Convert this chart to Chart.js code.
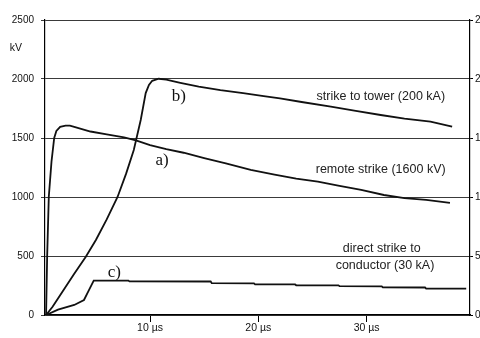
<!DOCTYPE html>
<html>
<head>
<meta charset="utf-8">
<script src="https://cdn.jsdelivr.net/npm/chart.js@4/dist/chart.umd.min.js"></script>
<style>
  html, body { margin: 0; padding: 0; background: #fff; overflow: hidden; }
  #wrap { width: 480px; height: 338px; }
</style>
</head>
<body>
<div id="wrap"><canvas id="c" width="480" height="338"></canvas></div>
<script>
// Overvoltage waveforms at the line entrance (time in µs, voltage in kV)

// a) remote strike (1600 kV)
const remoteTime = [0.4, 0.5, 0.65, 0.9, 1.15, 1.35, 1.7, 2.2, 2.6, 3.0, 4.5, 6.0, 7.6, 8.7, 10.0, 11.5, 13.1, 15.0, 17.0, 19.3, 21.5, 23.5, 25.5, 27.5, 29.5, 31.6, 33.5, 35.5, 37.7];
const remoteKV   = [0, 500, 1000, 1300, 1500, 1560, 1595, 1605, 1605, 1595, 1555, 1530, 1505, 1480, 1440, 1405, 1375, 1330, 1285, 1230, 1190, 1155, 1130, 1095, 1060, 1017, 990, 975, 950];

// b) strike to tower (200 kA)
const towerTime = [0.4, 1.0, 2.0, 3.0, 4.07, 5.0, 6.0, 7.0, 7.8, 8.5, 9.14, 9.6, 9.9, 10.2, 10.8, 11.5, 12.8, 14.5, 16.5, 18.6, 20.5, 22.0, 24.0, 26.7, 29.0, 31.3, 33.5, 35.9, 37.9];
const towerKV   = [0, 70, 210, 350, 494, 636, 810, 1000, 1200, 1398, 1653, 1881, 1950, 1985, 2002, 1995, 1968, 1935, 1905, 1880, 1855, 1836, 1805, 1765, 1730, 1695, 1665, 1638, 1596];

// c) direct strike to conductor (30 kA)
const conductorTime = [0.4, 1.5, 3.0, 3.9, 4.3, 4.8, 8.0, 8.1, 15.6, 15.7, 19.6, 19.7, 23.4, 23.5, 27.4, 27.5, 31.4, 31.5, 35.4, 35.5, 39.2];
const conductorKV   = [0, 45, 85, 127, 200, 292, 292, 285, 284, 270, 268, 260, 259, 252, 251, 244, 243, 234, 233, 224, 224];

// axis ticks
const timeTicks = [10, 20, 30];
const timeTickLabels = ['10 µs', '20 µs', '30 µs'];
const kvTicks = [0, 500, 1000, 1500, 2000, 2500];

const toPoints = (xs, ys) => xs.map((x, i) => ({ x: x, y: ys[i] }));

const SANS = '"Liberation Sans", Arial, sans-serif';
const SERIF = '"Liberation Serif", "Times New Roman", serif';

// text drawn inside the plot, placed in data coordinates
const notes = [
  { text: 'strike to tower (200 kA)', x: 37.25, y: 1855, align: 'right', font: '12.5px ' + SANS, color: '#222' },
  { text: 'remote strike (1600 kV)', x: 37.3, y: 1230, align: 'right', font: '12.5px ' + SANS, color: '#222' },
  { text: 'direct strike to', x: 31.4, y: 560, align: 'center', font: '12.5px ' + SANS, color: '#222' },
  { text: 'conductor (30 kA)', x: 31.7, y: 420, align: 'center', font: '12.5px ' + SANS, color: '#222' },
  { text: 'b)', x: 12.0, y: 1850, align: 'left', font: '17px ' + SERIF, color: '#111' },
  { text: 'a)', x: 10.5, y: 1310, align: 'left', font: '17px ' + SERIF, color: '#111' },
  { text: 'c)', x: 6.1, y: 364, align: 'left', font: '17px ' + SERIF, color: '#111' }
];

const notePlugin = {
  id: 'notes',
  afterDatasetsDraw(chart) {
    const { ctx, scales } = chart;
    ctx.save();
    ctx.textBaseline = 'middle';
    notes.forEach(n => {
      ctx.font = n.font;
      ctx.fillStyle = n.color;
      ctx.textAlign = n.align;
      ctx.fillText(n.text, scales.x.getPixelForValue(n.x), scales.y.getPixelForValue(n.y));
    });
    // unit label beside the voltage axis
    ctx.font = '10.5px ' + SANS;
    ctx.fillStyle = '#111';
    ctx.textAlign = 'center';
    ctx.fillText('kV', scales.y.left + 16, scales.y.getPixelForValue(2260));
    ctx.restore();
  }
};

const lineStyle = { borderColor: '#111', borderWidth: 1.8, pointRadius: 0, tension: 0, fill: false };

new Chart(document.getElementById('c'), {
  type: 'line',
  data: {
    datasets: [
      Object.assign({ label: 'remote strike (1600 kV)', data: toPoints(remoteTime, remoteKV) }, lineStyle),
      Object.assign({ label: 'strike to tower (200 kA)', data: toPoints(towerTime, towerKV) }, lineStyle),
      Object.assign({ label: 'direct strike to conductor (30 kA)', data: toPoints(conductorTime, conductorKV) }, lineStyle)
    ]
  },
  options: {
    responsive: false,
    animation: false,
    layout: { padding: { top: 20, left: 0, right: 0, bottom: 0 } },
    plugins: { legend: { display: false }, tooltip: { enabled: false } },
    scales: {
      x: {
        type: 'linear',
        min: 0.3,
        max: 39.55,
        afterBuildTicks: s => { s.ticks = timeTicks.map(v => ({ value: v })); },
        afterFit: s => { s.height = 23; },
        ticks: {
          padding: 0,
          font: { family: SANS, size: 10.5 },
          color: '#111',
          maxRotation: 0,
          callback: v => timeTickLabels[timeTicks.indexOf(v)]
        },
        grid: { drawOnChartArea: false, drawTicks: true, tickLength: 7, color: '#000', lineWidth: 1 },
        border: { display: true, color: '#000', width: 1.2 }
      },
      y: {
        position: 'left',
        min: 0,
        max: 2500,
        afterBuildTicks: s => { s.ticks = kvTicks.map(v => ({ value: v })); },
        afterFit: s => { s.width = 45; },
        ticks: { padding: 7, font: { family: SANS, size: 10 }, color: '#111', callback: v => String(v) },
        grid: { drawTicks: true, tickLength: 4, color: '#3a3a3a', lineWidth: 1 },
        border: { display: true, color: '#000', width: 1.2 }
      },
      y2: {
        position: 'right',
        min: 0,
        max: 2500,
        afterBuildTicks: s => { s.ticks = kvTicks.map(v => ({ value: v })); },
        afterFit: s => { s.width = 10; },
        ticks: { padding: 2, font: { family: SANS, size: 10 }, color: '#111', callback: v => String(v) },
        grid: { drawOnChartArea: false, drawTicks: true, tickLength: 3, color: '#000', lineWidth: 1 },
        border: { display: true, color: '#000', width: 1.2 }
      }
    }
  },
  plugins: [notePlugin]
});
</script>
</body>
</html>
